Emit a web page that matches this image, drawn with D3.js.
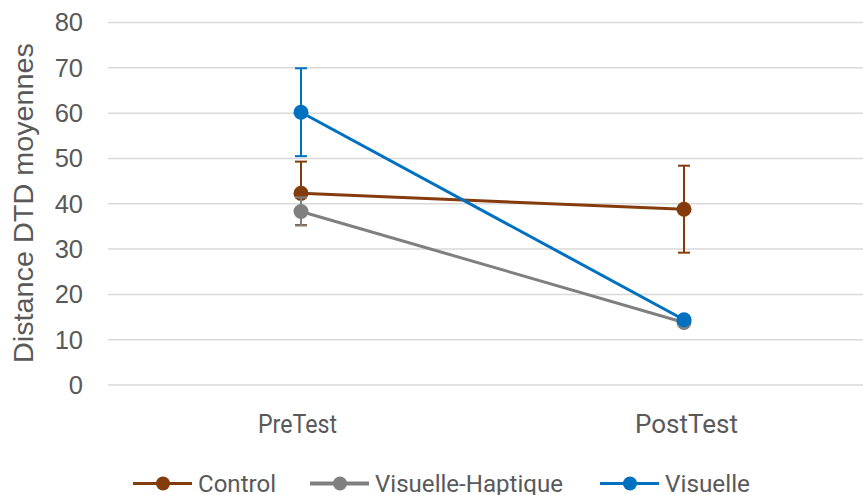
<!DOCTYPE html>
<html><head><meta charset="utf-8">
<script src="https://cdn.jsdelivr.net/npm/d3@7"></script>
<style>body{margin:0;background:#fff}svg{display:block}</style>
</head><body>
<svg id="c" width="863" height="495"></svg>
<script>
const categories = ["PreTest", "PostTest"];
const seriesNames = ["Control", "Visuelle-Haptique", "Visuelle"];
const controlValues = [42.3, 38.8];
const controlErrors = [7.0, 9.6];
const hapticValues = [38.3, 13.8];
const hapticErrors = [3.1, 0];
const visuelleValues = [60.2, 14.4];
const visuelleErrors = [9.7, 0];
const yTicks = [0, 10, 20, 30, 40, 50, 60, 70, 80];
const colors = ["#843C0C", "#7F7F7F", "#0070C0"];

const series = [
  {name: seriesNames[0], values: controlValues, errors: controlErrors, color: colors[0]},
  {name: seriesNames[1], values: hapticValues, errors: hapticErrors, color: colors[1]},
  {name: seriesNames[2], values: visuelleValues, errors: visuelleErrors, color: colors[2]}
];

const svg = d3.select("#c");
const x = d3.scaleBand().domain(categories).range([109.5, 875.5]);
const y = d3.scaleLinear().domain([0, 80]).range([385, 22.5]);
const cx = c => x(c) + x.bandwidth() / 2;
const narrow = "Roboto, 'Liberation Sans', sans-serif";

// gridlines
svg.append("g").selectAll("line").data(yTicks).join("line")
  .attr("x1", 108).attr("x2", 863)
  .attr("y1", d => y(d)).attr("y2", d => y(d))
  .attr("stroke", "#d9d9d9").attr("stroke-width", 1.5);

// y tick labels
svg.append("g").selectAll("text").data(yTicks).join("text")
  .attr("x", 83).attr("y", d => y(d)).attr("dy", "0.35em")
  .attr("text-anchor", "end").attr("fill", "#595959")
  .style("font-family", "'Liberation Sans', Arial, sans-serif").style("font-size", "25.5px")
  .text(d => d);

// y axis title
svg.append("text")
  .attr("transform", "translate(33,203) rotate(-90)")
  .attr("text-anchor", "middle").attr("fill", "#595959")
  .attr("textLength", 320).attr("lengthAdjust", "spacingAndGlyphs")
  .style("font-family", "'Liberation Sans', Arial, sans-serif").style("font-size", "28px")
  .text("Distance DTD moyennes");

// category labels
const catWidths = [79, 103];
svg.append("g").selectAll("text").data(categories).join("text")
  .attr("x", (d, i) => [258, 635][i]).attr("y", 433)
  .attr("fill", "#595959")
  .attr("textLength", (d, i) => catWidths[i]).attr("lengthAdjust", "spacingAndGlyphs")
  .style("font-family", narrow).style("font-size", "25px")
  .text(d => d);

const line = d3.line().x((d, i) => cx(categories[i])).y(d => y(d));

series.forEach(s => {
  const g = svg.append("g");
  // error bars
  s.values.forEach((v, i) => {
    const e = s.errors[i];
    if (!e) return;
    const px = cx(categories[i]);
    g.append("line").attr("x1", px).attr("x2", px).attr("y1", y(v - e)).attr("y2", y(v + e))
      .attr("stroke", s.color).attr("stroke-width", 2);
    [v - e, v + e].forEach(t => g.append("line").attr("x1", px - 6).attr("x2", px + 6)
      .attr("y1", y(t)).attr("y2", y(t)).attr("stroke", s.color).attr("stroke-width", 2));
  });
  g.append("path").datum(s.values).attr("d", line)
    .attr("fill", "none").attr("stroke", s.color).attr("stroke-width", 3);
  g.selectAll("circle").data(s.values).join("circle")
    .attr("cx", (d, i) => cx(categories[i])).attr("cy", d => y(d)).attr("r", 7.5)
    .attr("fill", s.color);
});

// legend
const legX = [133, 310, 600];
const legTextW = [78, 188, 85];
const leg = svg.append("g");
series.forEach((s, i) => {
  const lx = legX[i], ly = 483.5;
  leg.append("line").attr("x1", lx).attr("x2", lx + 59).attr("y1", ly).attr("y2", ly)
    .attr("stroke", s.color).attr("stroke-width", i === 1 ? 4 : 3);
  leg.append("circle").attr("cx", lx + 30).attr("cy", ly).attr("r", 7).attr("fill", s.color);
  leg.append("text").attr("x", lx + 65).attr("y", 492)
    .attr("fill", "#595959")
    .attr("textLength", legTextW[i]).attr("lengthAdjust", "spacingAndGlyphs")
    .style("font-family", narrow).style("font-size", "24px")
    .text(s.name);
});
</script>
</body></html>
